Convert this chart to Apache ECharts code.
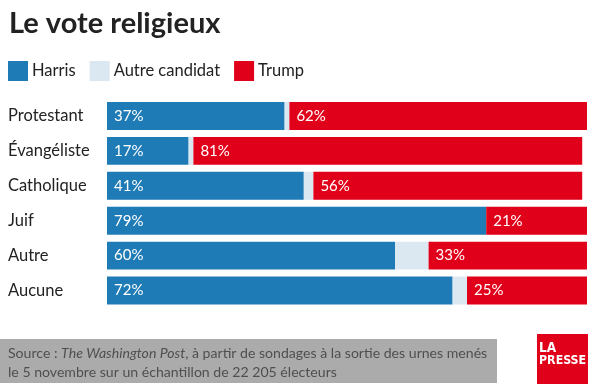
<!DOCTYPE html>
<html>
<head>
<meta charset="utf-8">
<script src="https://cdn.jsdelivr.net/npm/echarts@6/dist/echarts.min.js"></script>
<style>
html,body{margin:0;padding:0;background:#fff;}
#chart{width:595px;height:388px;}
</style>
</head>
<body>
<div id="chart"></div>
<script>
var categories = ['Protestant', 'Évangéliste', 'Catholique', 'Juif', 'Autre', 'Aucune'];
var harris = [37, 17, 41, 79, 60, 72];
var autre = [1, 1, 2, 0, 7, 3];
var trump = [62, 81, 56, 21, 33, 25];
var seriesNames = ['Harris', 'Autre candidat', 'Trump'];

var FONT = 'Lato, "Noto Sans", sans-serif';
var chart = echarts.init(document.getElementById('chart'), null, {renderer: 'canvas'});

var labelStyle = {
  show: true,
  position: 'insideLeft',
  distance: 7,
  color: '#fff',
  fontFamily: FONT,
  fontSize: 15,
  formatter: '{c}%'
};

chart.setOption({
  animation: false,
  backgroundColor: '#fff',
  title: {
    text: 'Le vote religieux',
    left: 4,
    top: 4,
    textStyle: {fontFamily: FONT, fontSize: 29, fontWeight: 'bold', color: '#222'}
  },
  legend: {
    left: 3,
    top: 56,
    itemWidth: 20,
    itemHeight: 20,
    itemGap: 14,
    icon: 'rect',
    textStyle: {fontFamily: FONT, fontSize: 16.5, color: '#222', padding: [0, 0, 0, -1]},
    data: seriesNames
  },
  grid: {left: 107, right: 8, top: 98.5, bottom: 80, containLabel: false},
  xAxis: {type: 'value', min: 0, max: 100, show: false},
  yAxis: {
    type: 'category',
    inverse: true,
    data: categories,
    axisLine: {show: false},
    axisTick: {show: false},
    axisLabel: {
      align: 'left',
      margin: 99,
      fontFamily: FONT,
      fontSize: 16.5,
      color: '#222'
    }
  },
  series: [
    {
      name: seriesNames[0], type: 'bar', stack: 'v', data: harris,
      barCategoryGap: '20%',
      itemStyle: {color: '#1f7bb6'},
      label: labelStyle
    },
    {
      name: seriesNames[1], type: 'bar', stack: 'v', data: autre,
      itemStyle: {color: '#dbe7f1'},
      label: {show: false}
    },
    {
      name: seriesNames[2], type: 'bar', stack: 'v', data: trump,
      itemStyle: {color: '#e1001a'},
      label: labelStyle
    }
  ],
  graphic: [
    {type: 'rect', left: 0, top: 339, shape: {width: 497, height: 44}, style: {fill: '#ababab'}, silent: true},
    {type: 'text', left: 8, top: 346, style: {
      text: '{n|Source : }{i|The Washington Post}{n|, à partir de sondages à la sortie des urnes menés}',
      rich: {
        n: {fontFamily: FONT, fontSize: 14.1, fill: '#4f4f4f'},
        i: {fontFamily: FONT, fontSize: 14.1, fontStyle: 'italic', fill: '#4f4f4f'}
      }
    }},
    {type: 'text', left: 8, top: 365, style: {
      text: 'le 5 novembre sur un échantillon de 22 205 électeurs',
      fontFamily: FONT, fontSize: 14.1, fill: '#4f4f4f'
    }},
    {type: 'rect', left: 537, top: 334, shape: {width: 51, height: 50}, style: {fill: '#e1001a'}, silent: true},
    {type: 'text', left: 539, top: 341, style: {
      text: 'LA', fontFamily: '"DejaVu Sans Condensed", "DejaVu Sans", sans-serif', fontWeight: 'bold', fontSize: 13.5, fill: '#fff'
    }},
    {type: 'text', left: 539, top: 355, style: {
      text: 'PRESSE', fontFamily: '"DejaVu Sans Condensed", "DejaVu Sans", sans-serif', fontWeight: 'bold', fontSize: 12.3, fill: '#fff'
    }}
  ]
});
</script>
</body>
</html>
